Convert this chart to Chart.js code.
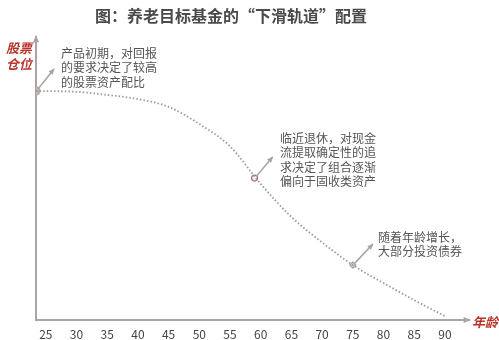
<!DOCTYPE html>
<html><head><meta charset="utf-8">
<script src="https://cdn.jsdelivr.net/npm/chart.js@4.4.1/dist/chart.umd.min.js"></script>
<style>html,body{margin:0;padding:0;background:#fff}#wrap{width:499px;height:340px;position:relative}</style>
</head><body><div id="wrap"><canvas id="c"></canvas></div>
<script>
const titleText = '图：养老目标基金的“下滑轨道”配置';
const yAxisLabel = ['股票', '仓位'];
const xAxisLabel = '年龄';
const tickAges = [25, 30, 35, 40, 45, 50, 55, 60, 65, 70, 75, 80, 85, 90];
const curveAges = [23.4, 30, 35, 40, 45, 50, 55, 60, 65, 70, 75, 80, 85, 90];
const equityShare = [81.8, 81.5, 80.4, 78.9, 76.1, 70.0, 62.0, 48.6, 36.8, 27.7, 19.6, 13.2, 7.1, 1.4];
const markerAges = [23.4, 59, 75];
const markerValues = [81.8, 50.7, 19.6];
const notes = [
  ['产品初期，对回报', '的要求决定了较高', '的股票资产配比'],
  ['临近退休，对现金', '流提取确定性的追', '求决定了组合逐渐', '偏向于固收类资产'],
  ['随着年龄增长，', '大部分投资债券']
];

const FONT = '"Noto Sans CJK SC", "Noto Sans", sans-serif';
const RED = '#b8352c';
const AX = '#aaa5a3';

function arrow(ctx, x1, y1, x2, y2, col, w, head) {
  ctx.save();
  ctx.strokeStyle = col; ctx.fillStyle = col; ctx.lineWidth = w;
  ctx.beginPath(); ctx.moveTo(x1, y1); ctx.lineTo(x2, y2); ctx.stroke();
  const a = Math.atan2(y2 - y1, x2 - x1);
  ctx.beginPath();
  ctx.moveTo(x2 + Math.cos(a) * 1, y2 + Math.sin(a) * 1);
  ctx.lineTo(x2 - head * Math.cos(a - 0.45), y2 - head * Math.sin(a - 0.45));
  ctx.lineTo(x2 - head * Math.cos(a + 0.45), y2 - head * Math.sin(a + 0.45));
  ctx.closePath(); ctx.fill();
  ctx.restore();
}

const deco = {
  id: 'deco',
  beforeDatasetsDraw(chart) {
    const ctx = chart.ctx, a = chart.chartArea;
    arrow(ctx, a.left, a.bottom + 1, a.left, 36, AX, 2, 7);
    arrow(ctx, a.left - 1, a.bottom, a.right + 3, a.bottom, AX, 2, 7);
  },
  afterDatasetsDraw(chart) {
    const ctx = chart.ctx;
    const xs = chart.scales.x, ys = chart.scales.y;
    ctx.save();
    ctx.textBaseline = 'middle';
    ctx.fillStyle = '#4a4a4a';
    ctx.font = 'bold 16px ' + FONT;
    ctx.textAlign = 'center';
    ctx.fillText(titleText, 231, 16);
    ctx.fillStyle = RED;
    ctx.font = 'italic bold 13px ' + FONT;
    ctx.fillText(yAxisLabel[0], 19, 48);
    ctx.fillText(yAxisLabel[1], 19, 64);
    ctx.textAlign = 'left';
    ctx.fillText(xAxisLabel, 472, 322);
    const offs = [[18, -22], [18, -21], [20, -21]];
    const textPos = [[61, 53], [280, 138], [378, 237]];
    for (let i = 0; i < markerAges.length; i++) {
      const px = xs.getPixelForValue(markerAges[i]);
      const py = ys.getPixelForValue(markerValues[i]);
      arrow(ctx, px + 2, py - 2, px + offs[i][0], py + offs[i][1], '#a8a4a4', 1.5, 6);
      ctx.fillStyle = '#555';
      ctx.font = '12px ' + FONT;
      ctx.textAlign = 'left';
      notes[i].forEach((t, k) => ctx.fillText(t, textPos[i][0], textPos[i][1] + k * 14.5));
    }
    ctx.restore();
  }
};

new Chart(document.getElementById('c'), {
  type: 'line',
  data: {
    datasets: [
      {
        data: curveAges.map((x, i) => ({x, y: equityShare[i]})),
        borderColor: '#9e9898', borderWidth: 1.8, borderDash: [1.5, 2.1],
        pointRadius: 0, cubicInterpolationMode: 'monotone', fill: false
      },
      {
        data: markerAges.map((x, i) => ({x, y: markerValues[i]})),
        showLine: false,
        pointRadius: [4, 3, 3],
        pointStyle: ['circle', 'circle', 'rectRot'],
        pointBackgroundColor: ['#bfb6b4', '#f4eeee', '#d8d0d0'],
        pointBorderColor: ['#b3aaa8', '#a87872', '#a89c9c'],
        pointBorderWidth: 1.2
      }
    ]
  },
  options: {
    responsive: true, maintainAspectRatio: false, animation: false,
    layout: {padding: {left: 36, right: 32, top: 40, bottom: 0}},
    plugins: {legend: {display: false}, tooltip: {enabled: false}},
    scales: {
      x: {
        type: 'linear', min: 23.4, max: 93.6,
        afterBuildTicks: s => { s.ticks = tickAges.map(v => ({value: v})); },
        afterFit: s => { s.height = 20; },
        grid: {display: false, drawTicks: false}, border: {display: false},
        ticks: {padding: 7, color: '#444', font: {family: FONT, size: 12}, maxRotation: 0, autoSkip: false}
      },
      y: {min: 0, max: 100, display: false}
    }
  },
  plugins: [deco]
});
</script></body></html>
